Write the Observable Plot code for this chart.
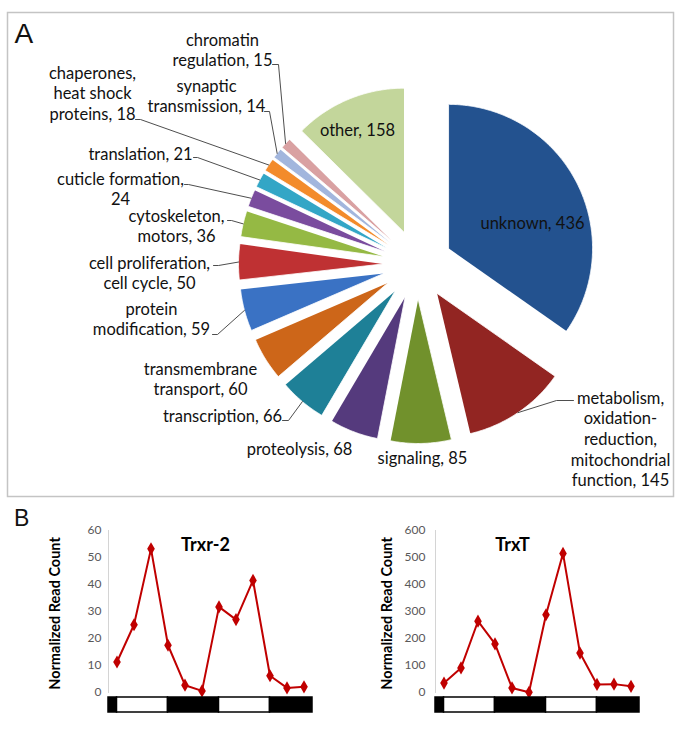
<!DOCTYPE html>
<html><head><meta charset="utf-8">
<script src="https://cdn.jsdelivr.net/npm/d3@7"></script>
<script src="https://cdn.jsdelivr.net/npm/@observablehq/plot@0.6"></script>
<style>
body{margin:0;background:#fff;}
#root{position:relative;width:681px;height:729px;font-family:Lato,"Open Sans",sans-serif;overflow:hidden;}
#root > *{position:absolute;}
#labelB{left:14px;top:507px;font-family:"Liberation Sans",Arial,sans-serif;font-size:23px;line-height:1;color:#111;}
</style></head><body><div id="root"><div id="labelB">B</div></div>
<script>
// ---------- Panel A data ----------
const categories = ["unknown","metabolism","signaling","proteolysis","transcription","transmembrane","protein modification","cell proliferation","cytoskeleton","cuticle","translation","chaperones","synaptic","chromatin","other"];
const counts = [436,145,85,68,66,60,59,50,36,24,21,18,14,15,158];
const labelText = [
  "unknown, 436",
  "metabolism,\noxidation-\nreduction,\nmitochondrial\nfunction, 145",
  "signaling, 85",
  "proteolysis, 68",
  "transcription, 66",
  "transmembrane\ntransport, 60",
  "protein\nmodification, 59",
  "cell proliferation,\ncell cycle, 50",
  "cytoskeleton,\nmotors, 36",
  "cuticle formation,\n24",
  "translation, 21",
  "chaperones,\nheat shock\nproteins, 18",
  "synaptic\ntransmission, 14",
  "chromatin\nregulation, 15",
  "other, 158"
];
const sliceColors = ["#23528F","#922522","#71912C","#553A7D","#1E8097","#CD6619","#3A72C4","#BF3133","#95B944","#7A4C9E","#33A6C6","#F38B2B","#A2B6DD","#D9A1A2","#C3D69B"];

// ---------- Panel B data ----------
const timepoints = [0,1,2,3,4,5,6,7,8,9,10,11];
const trxr2 = [11.3,25.1,53.2,17.5,2.7,0.6,31.7,27.0,41.5,6.2,1.7,2.1];
const trxT = [35,91,264,180,17,1,288,515,146,30,31,23];
const phaseFrom = [-0.5,0,3,6,9];
const phaseTo = [0,3,6,9,11.5];
const phaseLight = [false,true,false,true,false];

// ---------- layout (pixels relative to pie centre) ----------
const R = 144, EXPLODE = 35;
const FS = 16.5, LH = 20.6;
// cx, first baseline, leader start [x,y], tick dx
const labelLayout = {
  "unknown": {cx:115, b:-37},
  "metabolism": {cx:203, b:138, lead:[156,136], tick:-17},
  "signaling": {cx:5, b:198},
  "proteolysis": {cx:-118, b:189},
  "transcription": {cx:-195, b:156, lead:[-135,156], tick:6},
  "transmembrane": {cx:-217, b:109},
  "protein modification": {cx:-266, b:49, lead:[-205,70], tick:5},
  "cell proliferation": {cx:-268, b:3, lead:[-204,1], tick:5},
  "cytoskeleton": {cx:-241, b:-44, lead:[-190,-44], tick:4},
  "cuticle": {cx:-297, b:-81, lead:[-233,-80], tick:4},
  "translation": {cx:-277, b:-106, lead:[-224,-107], tick:4},
  "chaperones": {cx:-325, b:-187, lead:[-282,-145], tick:5},
  "synaptic": {cx:-211, b:-174, lead:[-153,-153], tick:5},
  "chromatin": {cx:-195, b:-220, lead:[-145,-200], tick:6},
  "other": {cx:-60, b:-130}
};

const root = document.getElementById("root");

// ---------- pie geometry from data ----------
const arcs = d3.pie().sort(null).value(d => d)(counts);
const slicePts = [];
const leaderPts = [];
const labelRows = [];
arcs.forEach((a, i) => {
  const key = categories[i];
  const mid = (a.startAngle + a.endAngle) / 2;
  const ox = EXPLODE * Math.sin(mid), oy = -EXPLODE * Math.cos(mid);
  slicePts.push({key, x: ox, y: oy});
  const n = Math.max(2, Math.ceil((a.endAngle - a.startAngle) / (Math.PI / 360)));
  for (let k = 0; k <= n; k++) {
    const t = a.startAngle + (a.endAngle - a.startAngle) * k / n;
    slicePts.push({key, x: ox + R * Math.sin(t), y: oy - R * Math.cos(t)});
  }
  const L = labelLayout[key];
  const lines = labelText[i].split("\n").length;
  labelRows.push({key, text: labelText[i], x: L.cx, y: L.b + (lines - 1) * LH / 2 - 0.32 * FS});
  if (L.lead) {
    const ex = (EXPLODE + R) * Math.sin(mid), ey = -(EXPLODE + R) * Math.cos(mid);
    leaderPts.push({key, x: L.lead[0], y: L.lead[1]});
    leaderPts.push({key, x: L.lead[0] + L.tick, y: L.lead[1]});
    leaderPts.push({key, x: ex, y: ey});
  }
});

const plotA = Plot.plot({
  width: 681, height: 500,
  marginTop: 12, marginLeft: 7, marginRight: 8, marginBottom: 4,
  x: {domain: [-410, 256], axis: null},
  y: {domain: [-252, 232], reverse: true, axis: null},
  color: {domain: categories, range: sliceColors},
  style: {background: "transparent", fontFamily: "Lato, sans-serif"},
  marks: [
    Plot.frame({stroke: "#c4c4c4", strokeWidth: 1.5}),
    Plot.line(slicePts, {x: "x", y: "y", z: "key", fill: "key", stroke: "white", strokeWidth: 0.8}),
    Plot.line(leaderPts, {x: "x", y: "y", z: "key", stroke: "#3a3a3a", strokeWidth: 0.9}),
    Plot.text(labelRows, {x: "x", y: "y", text: "text", fontSize: FS, lineHeight: LH / FS, fill: "#111", textAnchor: "middle"}),
    Plot.text(["A"], {frameAnchor: "top-left", textAnchor: "start", lineAnchor: "top", dx: 7, dy: 11, fontSize: 28, fill: "#111", fontFamily: "Liberation Sans, Arial, sans-serif"})
  ]
});
plotA.style.left = "0px"; plotA.style.top = "0px";
root.appendChild(plotA);

// ---------- panel B ----------
function lineChart(values, yMax, title, titleDx, axisTitleDx, tickPad) {
  const series = timepoints.map((t, i) => ({t, v: values[i]}));
  return Plot.plot({
    width: 340, height: 196,
    marginLeft: 108, marginRight: 28, marginTop: 25, marginBottom: 9,
    x: {domain: [-0.5, 11.5], axis: null},
    y: {domain: [0, yMax], axis: null},
    style: {background: "transparent", fontFamily: "Lato, sans-serif", color: "#595959", overflow: "visible"},
    marks: [
      Plot.frame({anchor: "left", stroke: "#d4d4d4"}),
      Plot.axisY({ticks: d3.range(0, yMax + 1, yMax / 6), tickSize: 0, tickPadding: tickPad, fontSize: 12, label: null}),
      Plot.line(series, {x: "t", y: "v", stroke: "#C00000", strokeWidth: 2}),
      Plot.dot(series, {x: "t", y: "v", symbol: "diamond", r: 4, fill: "#C00000"}),
      Plot.text([title], {frameAnchor: "top", dx: titleDx, dy: 8, fontSize: 18, fontWeight: "bold", fill: "#000"}),
      Plot.text(["Normalized Read Count"], {frameAnchor: "left", textAnchor: "middle", rotate: -90, dx: axisTitleDx, dy: 2, fontSize: 14.5, fontWeight: "bold", fill: "#000"})
    ]
  });
}
function ldBar() {
  const phases = phaseFrom.map((f, i) => ({from: f, to: phaseTo[i], light: phaseLight[i]}));
  return Plot.plot({
    width: 340, height: 17,
    marginLeft: 108, marginRight: 28, marginTop: 1, marginBottom: 1,
    x: {domain: [-0.5, 11.5], axis: null},
    style: {background: "transparent"},
    marks: [
      Plot.rect(phases, {x1: "from", x2: "to", fill: d => d.light ? "white" : "black", stroke: "black", strokeWidth: 1.5})
    ]
  });
}
const c1 = lineChart(trxr2, 60, "Trxr-2", -5, -53, 7);
c1.style.left = "0px"; c1.style.top = "505px";
const c2 = lineChart(trxT, 600, "TrxT", -25, -48, 10);
c2.style.left = "327px"; c2.style.top = "505px";
const b1 = ldBar(); b1.style.left = "0px"; b1.style.top = "696px";
const b2 = ldBar(); b2.style.left = "327px"; b2.style.top = "696px";
root.append(c1, c2, b1, b2);
</script></body></html>
